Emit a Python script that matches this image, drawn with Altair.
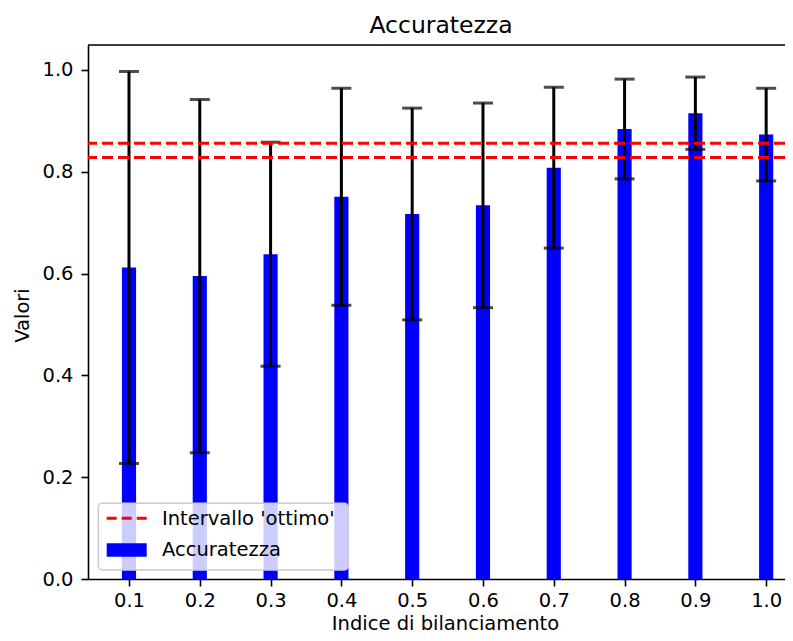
import altair as alt
import pandas as pd

# Data
x_vals = [0.1, 0.2, 0.3, 0.4, 0.5, 0.6, 0.7, 0.8, 0.9, 1.0]
accuracy = [0.612, 0.595, 0.638, 0.751, 0.717, 0.734, 0.808, 0.884, 0.915, 0.873]
std_dev = [0.385, 0.347, 0.220, 0.213, 0.208, 0.201, 0.158, 0.098, 0.071, 0.091]
optimal_bounds = [0.828, 0.856]
x_ticks = [0.1, 0.2, 0.3, 0.4, 0.5, 0.6, 0.7, 0.8, 0.9, 1.0]
y_ticks = [0.0, 0.2, 0.4, 0.6, 0.8, 1.0]

BAR_W = 0.02
W, H = 697, 534
FONT = "DejaVu Sans"
FS = 19.5

df = pd.DataFrame({"x": x_vals, "acc": accuracy, "err": std_dev})
df["x0"] = df["x"] - BAR_W / 2
df["x1"] = df["x"] + BAR_W / 2
df["lo"] = df["acc"] - df["err"]
df["hi"] = df["acc"] + df["err"]
df_opt = pd.DataFrame({"y": optimal_bounds})

xscale = alt.Scale(domain=[0.0421, 1.0266], nice=False, zero=False)
yscale = alt.Scale(domain=[0, 1.049], nice=False, zero=False)

xaxis = alt.Axis(values=x_ticks, format=".1f", title="Indice di bilanciamento",
                 grid=False, tickSize=7, labelPadding=20, labelBaseline="alphabetic",
                 domainColor="black", tickColor="black", labelColor="black",
                 titleColor="black", labelFont=FONT, titleFont=FONT,
                 labelFontSize=FS, titleFontSize=FS, titleFontWeight="normal",
                 titleX=357, titleY=50, titleBaseline="alphabetic", titleAlign="center",
                 domainWidth=1.6, tickWidth=1.6)
yaxis = alt.Axis(values=y_ticks, format=".1f", title="Valori", grid=False,
                 tickSize=7, labelPadding=8, domainColor="black", tickColor="black",
                 labelColor="black", titleColor="black", labelFont=FONT, titleFont=FONT,
                 labelFontSize=FS, titleFontSize=FS, titleFontWeight="normal",
                 titleX=-66, titleY=270, titleAngle=-90, titleAlign="center",
                 titleBaseline="middle", domainWidth=1.6, tickWidth=1.6)

base = alt.Chart(df)

bars = base.mark_bar(color="#0000ff").encode(
    x=alt.X("x0:Q", scale=xscale, axis=xaxis),
    x2="x1:Q",
    y=alt.Y("acc:Q", scale=yscale, axis=yaxis),
    y2=alt.datum(0),
)

err_lines = base.mark_rule(color="black", strokeWidth=3).encode(
    x=alt.X("x:Q", scale=xscale), y=alt.Y("lo:Q", scale=yscale), y2="hi:Q"
)
caps_lo = base.mark_tick(color="black", orient="horizontal", size=20, thickness=3).encode(
    x=alt.X("x:Q", scale=xscale), y=alt.Y("lo:Q", scale=yscale)
)
caps_hi = base.mark_tick(color="black", orient="horizontal", size=20, thickness=3).encode(
    x=alt.X("x:Q", scale=xscale), y=alt.Y("hi:Q", scale=yscale)
)

opt_lines = alt.Chart(df_opt).mark_rule(color="red", strokeWidth=3, strokeDash=[11, 5]).encode(
    y=alt.Y("y:Q", scale=yscale)
)

# frame: top spine
top_spine = alt.Chart(df_opt.head(1)).mark_rule(color="black", strokeWidth=1.6).encode(
    x=alt.value(0), x2=alt.value(W), y=alt.value(0)
)

# legend (manual, matplotlib style)
one = pd.DataFrame({"k": [0]})
leg_box = alt.Chart(one).mark_rect(fill="white", fillOpacity=0.8, stroke="#cccccc",
                                   strokeWidth=1.5, cornerRadius=4).encode(
    x=alt.value(10.3), x2=alt.value(260.3), y=alt.value(458.3), y2=alt.value(525)
)
leg_line = alt.Chart(one).mark_rule(color="red", strokeWidth=3, strokeDash=[10, 5]).encode(
    x=alt.value(18.7), x2=alt.value(58.7), y=alt.value(473.3)
)
leg_rect = alt.Chart(one).mark_rect(color="#0000ff").encode(
    x=alt.value(18.7), x2=alt.value(58.7), y=alt.value(498.3), y2=alt.value(511.7)
)
leg_t1 = alt.Chart(one).mark_text(text="Intervallo 'ottimo'", align="left", baseline="middle",
                                  font=FONT, fontSize=FS, color="black").encode(
    x=alt.value(74), y=alt.value(474)
)
leg_t2 = alt.Chart(one).mark_text(text="Accuratezza", align="left", baseline="middle",
                                  font=FONT, fontSize=FS, color="black").encode(
    x=alt.value(74), y=alt.value(505)
)

chart = alt.layer(
    bars, err_lines, caps_lo, caps_hi, opt_lines, top_spine,
    leg_box, leg_line, leg_rect, leg_t1, leg_t2
).properties(
    width=W, height=H,
    title=alt.TitleParams("Accuratezza", font=FONT, fontSize=23.5, fontWeight="normal",
                          color="black", offset=7, dx=4.5),
    autosize=alt.AutoSizeParams(type="none"),
    padding={"left": 80, "top": 37, "right": 0, "bottom": 54},
).configure_view(stroke=None).configure(background="white")

chart.save("out.html", embed_options={"renderer": "svg", "actions": False})
